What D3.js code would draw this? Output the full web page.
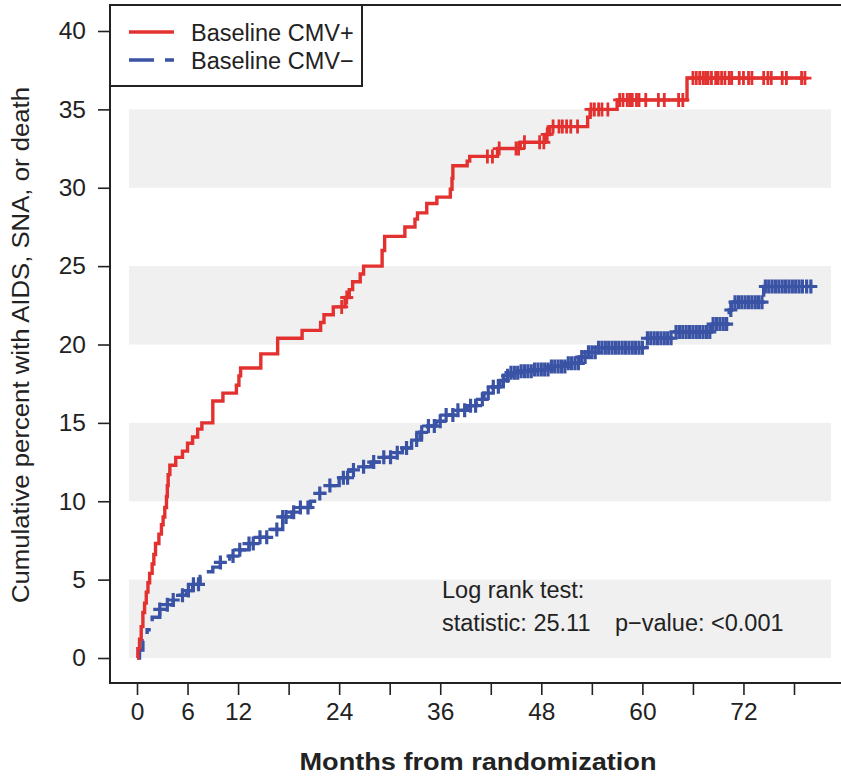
<!DOCTYPE html>
<html>
<head>
<meta charset="utf-8">
<script src="https://cdn.jsdelivr.net/npm/d3@7"></script>
<style>
  body { margin: 0; background: #fff; }
  svg { display: block; font-family: "Liberation Sans", Arial, sans-serif; }
</style>
</head>
<body>
<svg id="chart"></svg>
<script>
// ---- data ----
let seriesNames = ["Baseline CMV+", "Baseline CMV\u2212"];

// CMV+ : step times (months) and cumulative percent after each step
let posTime = [0, 0.1, 0.3, 0.5, 0.7, 0.9, 1.1, 1.3, 1.5, 1.8, 2.0, 2.2, 2.6, 2.9, 3.1, 3.3, 3.5, 3.6, 3.7, 3.9,
    4.6, 5.4, 6.0, 6.6, 7.2, 7.7, 9.0, 10.2, 11.8, 12.1, 12.3, 14.7, 16.7, 19.6, 21.8, 22.2, 23.3, 24.7,
    25.2, 25.6, 26.5, 26.9, 29.1, 29.4, 31.8, 33.0, 33.3, 34.4, 35.6, 37.2, 37.4, 37.5, 39.2, 39.5, 42.8,
    45.5, 48.5, 49.0, 53.5, 53.8, 57.0, 65.3, 79.3];
let posPct = [0, 0.6, 1.2, 2.0, 2.9, 3.5, 4.2, 4.8, 5.4, 6.0, 6.6, 7.3, 7.9, 8.5, 9.0, 9.6, 10.3, 11.0, 11.7, 12.3,
    12.8, 13.2, 13.7, 14.1, 14.6, 15.0, 16.4, 16.9, 17.4, 18.0, 18.5, 19.4, 20.4, 20.9, 21.4, 21.9, 22.4, 23.0,
    23.5, 24.0, 24.5, 25.0, 26.0, 26.9, 27.5, 28.0, 28.4, 29.0, 29.4, 29.9, 30.6, 31.4, 31.7, 32.0, 32.5,
    32.9, 33.4, 33.9, 34.5, 35.0, 35.6, 37.0, 37.0];
let posCensor = [24.3, 24.9, 41.6, 42.2, 43.0, 45.0, 45.3, 46.0, 47.8, 48.3, 48.7, 49.4, 50.1, 50.5, 51.0, 51.5,
    52.3, 53.9, 54.3, 54.8, 55.2, 55.9, 57.3, 57.7, 58.2, 58.5, 58.8, 59.3, 59.6, 60.4, 61.9, 62.6, 64.3,
    64.8, 66.0, 66.4, 66.8, 67.2, 67.5, 67.8, 68.2, 68.7, 69.0, 69.4, 69.8, 70.3, 70.6, 71.5, 72.0, 72.6,
    73.0, 74.4, 74.9, 75.3, 76.6, 77.1, 78.9, 79.3];

// CMV- : step times and cumulative percent
let negTime = [0, 0.3, 0.7, 1.2, 1.8, 2.7, 3.5, 4.3, 5.1, 5.9, 6.6, 7.5, 8.2, 9.0, 9.9, 11.0, 12.2, 13.3, 14.6,
    15.8, 17.3, 18.4, 19.4, 20.6, 21.7, 22.8, 24.0, 25.3, 26.5, 27.8, 29.0, 30.4, 31.5, 32.6, 33.6, 34.5,
    35.5, 36.6, 37.8, 39.2, 40.3, 41.2, 42.2, 43.1, 43.7, 44.3, 45.5, 47.0, 49.0, 51.0, 52.5, 53.5, 54.8,
    60.5, 63.8, 68.2, 70.3, 70.6, 74.4, 80.2];
let negPct = [0, 0.5, 1.1, 1.8, 2.6, 3.1, 3.4, 3.7, 4.0, 4.3, 4.7, 5.2, 5.5, 5.8, 6.1, 6.5, 6.9, 7.3, 7.7,
    8.2, 9.0, 9.3, 9.6, 10.0, 10.5, 11.0, 11.5, 12.0, 12.2, 12.5, 12.8, 13.1, 13.4, 13.9, 14.4, 14.8,
    15.1, 15.5, 15.8, 16.1, 16.5, 16.9, 17.3, 17.7, 18.0, 18.2, 18.3, 18.4, 18.6, 18.8, 19.2, 19.5, 19.8,
    20.4, 20.8, 21.3, 22.2, 22.7, 23.7, 23.7];
let negCensor = [2.7, 3.6, 4.3, 5.4, 6.1, 6.7, 7.3, 9.9, 11.4, 12.2, 13.3, 13.8, 14.6, 15.4, 16.6, 17.3, 17.7,
    18.6, 19.4, 20.3, 21.7, 22.9, 24.5, 25.0, 25.7, 26.9, 28.1, 29.3, 30.1, 30.9, 32.0, 33.2, 33.8, 34.6,
    35.3, 36.0, 36.7, 37.5, 38.1, 38.9, 39.6, 40.2, 41.0, 41.7, 42.3, 42.9, 43.5, 44.0, 44.4, 44.8, 45.2,
    45.6, 46.0, 46.4, 46.8, 47.2, 47.6, 48.0, 48.4, 48.8, 49.2, 49.6, 50.0, 50.4, 50.8, 51.2, 51.6, 52.0,
    52.4, 52.8, 53.2, 53.6, 54.0, 54.4, 54.8, 55.2, 55.6, 56.0, 56.4, 56.8, 57.2, 57.6, 58.0, 58.4, 58.8,
    59.2, 59.6, 60.0, 60.6, 61.0, 61.4, 61.8, 62.2, 62.6, 63.0, 63.4, 64.0, 64.4, 64.8, 65.2, 65.6, 66.0,
    66.4, 66.8, 67.2, 67.6, 68.0, 68.4, 68.8, 69.2, 69.6, 70.0, 70.5, 71.0, 71.4, 71.8, 72.2, 72.6, 73.0,
    73.4, 73.8, 74.2, 74.6, 75.0, 75.4, 75.8, 76.2, 76.6, 77.0, 77.4, 77.8, 78.2, 78.6, 79.0, 79.5, 80.0];

let xTicks = [0, 6, 12, 18, 24, 30, 36, 42, 48, 54, 60, 66, 72, 78];
let xTickLabels = ["0", "6", "12", "", "24", "", "36", "", "48", "", "60", "", "72", ""];
let yTicks = [0, 5, 10, 15, 20, 25, 30, 35, 40];
let bands = [[0, 5], [10, 15], [20, 25], [30, 35]];

// ---- layout ----
let width = 841, height = 780;
let colors = { pos: "#e2312f", neg: "#3a53a5" };
let svg = d3.select("#chart").attr("width", width).attr("height", height);

let x = d3.scaleLinear().domain([0, 78]).range([137, 794]);
let y = d3.scaleLinear().domain([0, 40]).range([658, 31]);

// grey bands
svg.append("g").selectAll("rect").data(bands).enter().append("rect")
    .attr("x", 129).attr("width", 702)
    .attr("y", d => y(d[1])).attr("height", d => y(d[0]) - y(d[1]))
    .attr("fill", "#f0f0f0");

// axes
let yAxis = d3.axisLeft(y).tickValues(yTicks).tickSize(12).tickPadding(12);
let gy = svg.append("g").attr("transform", "translate(110,0)").call(yAxis);
gy.select(".domain").remove();
gy.selectAll("line").attr("stroke", "#222").attr("stroke-width", 1.6);
gy.selectAll("text").attr("font-size", 24.5).attr("fill", "#222")
    .attr("font-family", "Liberation Sans, Arial, sans-serif");

let xAxis = d3.axisBottom(x).tickValues(xTicks).tickSize(12).tickPadding(8)
    .tickFormat((d, i) => xTickLabels[i]);
let gx = svg.append("g").attr("transform", "translate(0,683)").call(xAxis);
gx.select(".domain").remove();
gx.selectAll("line").attr("stroke", "#222").attr("stroke-width", 1.6);
gx.selectAll("text").attr("font-size", 24.5).attr("fill", "#222")
    .attr("font-family", "Liberation Sans, Arial, sans-serif");

// plot frame
svg.append("path")
    .attr("d", "M860,5 H110 V683 H860")
    .attr("fill", "none").attr("stroke", "#222").attr("stroke-width", 2);

// curves
function stepPoints(times, pcts) {
    return times.map((t, i) => [t, pcts[i]]);
}
function valueAt(times, pcts, t) {
    let i = d3.bisectRight(times, t) - 1;
    return pcts[Math.max(0, i)];
}
let line = d3.line().x(d => x(d[0])).y(d => y(d[1])).curve(d3.curveStepAfter);

let groups = [
    { time: negTime, pct: negPct, cens: negCensor, color: colors.neg, dash: "24,10,8,10", mw: 3.2 },
    { time: posTime, pct: posPct, cens: posCensor, color: colors.pos, dash: null, mw: 2.8 }
];

groups.forEach(g => {
    svg.append("path")
        .datum(stepPoints(g.time, g.pct))
        .attr("d", line)
        .attr("fill", "none")
        .attr("stroke", g.color)
        .attr("stroke-width", 3.4)
        .attr("stroke-dasharray", g.dash);

    svg.append("g").selectAll("path").data(g.cens).enter().append("path")
        .attr("d", t => {
            let cx = x(t), cy = y(valueAt(g.time, g.pct, t));
            return "M" + (cx - 6.5) + "," + cy + "H" + (cx + 6.5) + "M" + cx + "," + (cy - 7) + "V" + (cy + 7);
        })
        .attr("stroke", g.color)
        .attr("stroke-width", g.mw)
        .attr("fill", "none");
});

// legend
let legend = svg.append("g");
legend.append("rect")
    .attr("x", 110).attr("y", 5).attr("width", 252).attr("height", 81)
    .attr("fill", "#fff").attr("stroke", "#222").attr("stroke-width", 2);
[colors.pos, colors.neg].forEach((c, i) => {
    let ly = 32 + i * 28;
    legend.append("line")
        .attr("x1", 129).attr("x2", 174).attr("y1", ly).attr("y2", ly)
        .attr("stroke", c).attr("stroke-width", 3.4)
        .attr("stroke-dasharray", i === 1 ? "25,11,9,10" : null);
    legend.append("text")
        .attr("x", 191).attr("y", ly + 8.5)
        .attr("font-size", 23.5).attr("fill", "#222")
        .text(seriesNames[i]);
});

// log rank annotation
let note = svg.append("g").attr("font-size", 23.5).attr("fill", "#222");
note.append("text").attr("x", 442).attr("y", 598).text("Log rank test:");
note.append("text").attr("x", 442).attr("y", 631).text("statistic: 25.11");
note.append("text").attr("x", 615).attr("y", 631).text("p\u2212value: <0.001");

// axis titles
svg.append("text")
    .attr("transform", "translate(29,345) rotate(-90)")
    .attr("text-anchor", "middle")
    .attr("font-size", 23.5).attr("fill", "#222")
    .attr("textLength", 516).attr("lengthAdjust", "spacingAndGlyphs")
    .text("Cumulative percent with AIDS, SNA, or death");

svg.append("text")
    .attr("x", 478).attr("y", 770)
    .attr("text-anchor", "middle")
    .attr("font-size", 23.5).attr("font-weight", "bold").attr("fill", "#222")
    .attr("textLength", 357).attr("lengthAdjust", "spacingAndGlyphs")
    .text("Months from randomization");
</script>
</body>
</html>
